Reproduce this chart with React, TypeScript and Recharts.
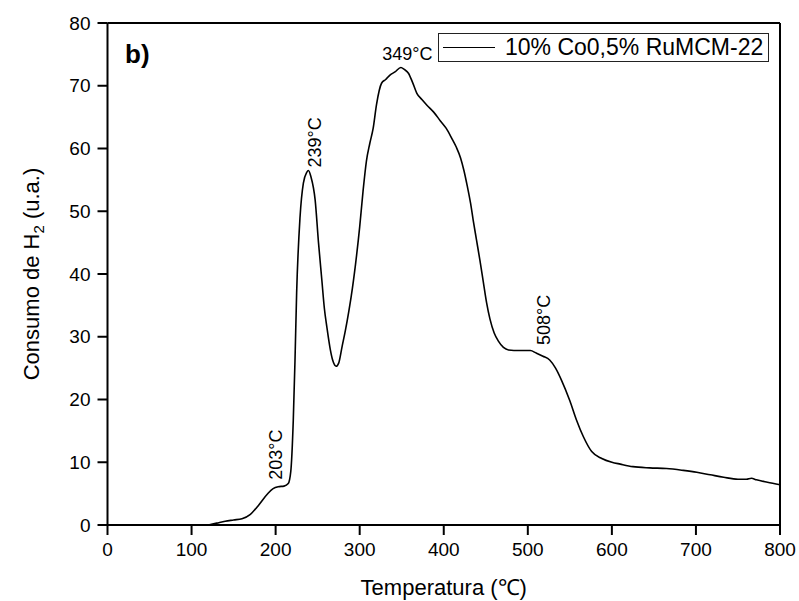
import React from 'react';
import { LineChart, Line, XAxis, YAxis, Legend, ReferenceDot } from 'recharts';

// TPR profile
const temperature = [
  120, 130, 140, 150, 160, 170, 180, 190, 197, 203, 210, 215, 218, 221, 223, 225, 229, 233,
  237, 239, 242, 247, 251, 255, 258, 261, 265, 268, 272, 275, 279, 283, 287, 290, 295, 300,
  304, 308, 312, 316, 320, 326, 331, 336, 342, 349, 353, 358, 363, 368, 374, 380, 388, 396,
  403, 410, 415, 420, 424, 428, 432, 435, 439, 443, 447, 451, 455, 460, 465, 471, 477, 490,
  503, 510, 518, 526, 533, 540, 550, 558, 566, 576, 588, 600, 610, 625, 645, 665, 685, 701,
  717, 733, 750, 760, 766, 772, 785, 800,
];
const consumption = [
  0, 0.3, 0.6, 0.8, 1.0, 1.7, 3.2, 4.9, 5.8, 6.1, 6.2, 6.6, 8.5, 16.7, 26, 37, 49, 54.5,
  56.2, 56.5, 55.5, 51.8, 45, 39, 34.5, 31.5, 28, 26.2, 25.3, 25.8, 28.4, 31, 34, 36.5, 41.5, 47.5,
  53.2, 58, 60.8, 63.2, 67, 70.4, 71.0, 71.7, 72.2, 72.9, 72.6, 72.0, 70.5, 68.8, 67.8, 66.9, 65.8, 64.4,
  63.2, 61.5, 60.2, 58.5, 56.5, 54, 51.2, 48.6, 45.4, 42.2, 38.8, 35.4, 32.8, 30.6, 29.3, 28.3, 27.9, 27.8,
  27.8, 27.4, 26.9, 26.3, 25, 23.1, 19.8, 16.7, 14.1, 11.7, 10.6, 10.0, 9.7, 9.3, 9.1, 9.0, 8.7, 8.4,
  8.0, 7.6, 7.3, 7.3, 7.45, 7.2, 6.8, 6.4,
];

const xTicks = [0, 100, 200, 300, 400, 500, 600, 700, 800];
const xMinorTicks = [50, 150, 250, 350, 450, 550, 650, 750];
const yTicks = [0, 10, 20, 30, 40, 50, 60, 70, 80];
const yMinorTicks = [5, 15, 25, 35, 45, 55, 65, 75];

const peakTemps = [203, 239, 349, 508];
const seriesName = '10% Co0,5% RuMCM-22';

const data = temperature.map((t, i) => ({ t, h2: consumption[i] }));

// curve value at the nearest sampled temperature
const valueAt = (t: number) => {
  let best = 0;
  temperature.forEach((v, i) => {
    if (Math.abs(v - t) < Math.abs(temperature[best] - t)) best = i;
  });
  return consumption[best];
};

const FONT = '"Liberation Sans", Arial, Helvetica, sans-serif';
const THIN = 0.001; // axes must have a size to be drawn, but take no room

// label placement relative to the peak point
const peakLabelStyle: Record<number, { dx: number; dy: number; rotate: boolean }> = {
  203: { dx: 4, dy: -7, rotate: true },
  239: { dx: 12.5, dy: -3, rotate: true },
  349: { dx: 6.5, dy: -8, rotate: false },
  508: { dx: 15.5, dy: -8, rotate: true },
};

const axisLine = { stroke: '#000', strokeWidth: 2 };
const tickLine = { stroke: '#000', strokeWidth: 2 };
const tickFont = { fill: '#000', fontSize: 19, fontFamily: FONT };

const LegendBox = (props: any) => {
  const label = props.payload && props.payload[0] ? props.payload[0].value : seriesName;
  return (
    <svg width={331} height={29} style={{ display: 'block' }}>
      <rect x={0.5} y={0.5} width={330} height={28} fill="#fff" stroke="#222" strokeWidth={1} />
      <line x1={5} x2={57} y1={14.5} y2={14.5} stroke="#000" strokeWidth={1} />
      <text x={67} y={22} fontSize={23} fontFamily={FONT} fill="#000">
        {label}
      </text>
    </svg>
  );
};

const App: React.FC = () => {
  return (
    <div style={{ position: 'absolute', left: 0, top: 0, width: 799, height: 601, background: '#fff' }}>
      <LineChart
        width={799}
        height={601}
        data={data}
        margin={{ top: 23, right: 19, bottom: 76, left: 107.5 }}
      >
        {/* minor ticks and mirrored frame axes */}
        <XAxis xAxisId="xm" type="number" dataKey="t" domain={[0, 800]} ticks={xMinorTicks} interval={0}
          height={THIN} tickSize={5} tick={false} axisLine={false} tickLine={tickLine} />
        <XAxis xAxisId="xt" orientation="top" mirror type="number" dataKey="t" domain={[0, 800]} ticks={xTicks}
          interval={0} height={THIN} tickSize={6} tick={false} axisLine={axisLine} tickLine={tickLine} />
        <XAxis xAxisId="xtm" orientation="top" mirror type="number" dataKey="t" domain={[0, 800]} ticks={xMinorTicks}
          interval={0} height={THIN} tickSize={4} tick={false} axisLine={false} tickLine={tickLine} />
        <XAxis
          xAxisId="x"
          type="number"
          dataKey="t"
          domain={[0, 800]}
          ticks={xTicks}
          interval={0}
          height={THIN}
          tickSize={10}
          tickMargin={8}
          tick={tickFont}
          axisLine={axisLine}
          tickLine={tickLine}
          label={{
            content: (p: any) => {
              const vb = p.viewBox || {};
              return (
                <text x={vb.x + vb.width / 2} y={vb.y + 70} textAnchor="middle" fontSize={22}
                  fontFamily={FONT} fill="#000">
                  Temperatura (℃)
                </text>
              );
            },
          }}
        />

        <YAxis yAxisId="ym" type="number" domain={[0, 80]} ticks={yMinorTicks} interval={0}
          width={THIN} tickSize={5} tick={false} axisLine={false} tickLine={tickLine} />
        <YAxis yAxisId="yr" orientation="right" mirror type="number" domain={[0, 80]} ticks={yTicks}
          interval={0} width={THIN} tickSize={6} tick={false} axisLine={axisLine} tickLine={tickLine} />
        <YAxis yAxisId="yrm" orientation="right" mirror type="number" domain={[0, 80]} ticks={yMinorTicks}
          interval={0} width={THIN} tickSize={4} tick={false} axisLine={false} tickLine={tickLine} />
        <YAxis
          yAxisId="y"
          type="number"
          domain={[0, 80]}
          ticks={yTicks}
          interval={0}
          width={THIN}
          tickSize={10}
          tickMargin={7}
          tick={tickFont}
          axisLine={axisLine}
          tickLine={tickLine}
          label={{
            content: (p: any) => {
              const vb = p.viewBox || {};
              const cx = vb.x + vb.width - 68.5;
              const cy = vb.y + vb.height / 2;
              return (
                <text x={cx} y={cy} transform={`rotate(-90 ${cx} ${cy})`} textAnchor="middle"
                  fontSize={22} fontFamily={FONT} fill="#000">
                  Consumo de H<tspan dy={5} fontSize={15}>2</tspan>
                  <tspan dy={-5}> (u.a.)</tspan>
                </text>
              );
            },
          }}
        />

        <Legend
          layout="horizontal"
          verticalAlign="middle"
          align="center"
          wrapperStyle={{ left: 438, top: 33, width: 331, height: 29 }}
          content={<LegendBox />}
        />

        <Line
          xAxisId="x"
          yAxisId="y"
          type="monotone"
          dataKey="h2"
          name={seriesName}
          stroke="#000"
          strokeWidth={1.6}
          dot={false}
          isAnimationActive={false}
        />

        {peakTemps.map((t) => {
          const s = peakLabelStyle[t];
          return (
            <ReferenceDot
              key={t}
              xAxisId="x"
              yAxisId="y"
              x={t}
              y={valueAt(t)}
              r={0}
              fill="none"
              stroke="none"
              label={{
                content: (p: any) => {
                  const vb = p.viewBox || {};
                  const lx = vb.x + (vb.width || 0) / 2 + s.dx;
                  const ly = vb.y + (vb.height || 0) / 2 + s.dy;
                  return (
                    <text
                      x={lx}
                      y={ly}
                      transform={s.rotate ? `rotate(-90 ${lx} ${ly})` : undefined}
                      textAnchor={s.rotate ? 'start' : 'middle'}
                      fontSize={18}
                      fontFamily={FONT}
                      fill="#000"
                    >
                      {`${t}°C`}
                    </text>
                  );
                },
              }}
            />
          );
        })}
      </LineChart>
      <div
        style={{
          position: 'absolute',
          left: 125,
          top: 40.5,
          fontFamily: FONT,
          fontWeight: 'bold',
          fontSize: 26,
          lineHeight: 1,
          color: '#000',
        }}
      >
        b)
      </div>
    </div>
  );
};

export default App;
